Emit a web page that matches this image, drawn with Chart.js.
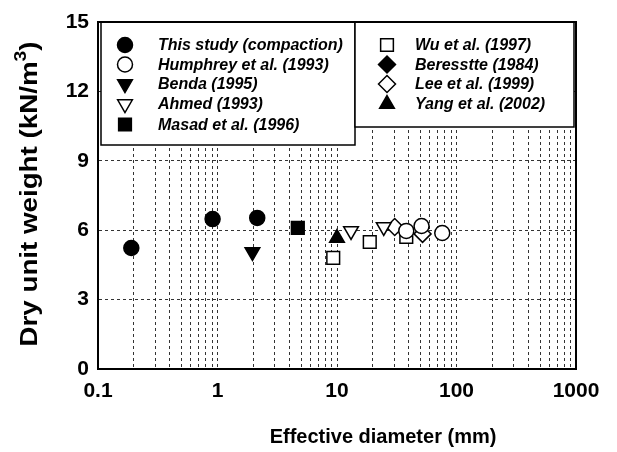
<!DOCTYPE html>
<html>
<head>
<meta charset="utf-8">
<script src="https://cdn.jsdelivr.net/npm/chart.js@4/dist/chart.umd.min.js"></script>
<style>
  body { margin: 0; background: #fff; }
  #chart { display: block; }
</style>
</head>
<body>
<canvas id="chart" width="617" height="452"></canvas>
<script>
// values
const thisStudyX = [0.19, 0.91, 2.15];
const thisStudyY = [5.23, 6.48, 6.53];
const humphreyX = [38, 51, 76];
const humphreyY = [5.97, 6.18, 5.88];
const bendaX = [1.96];
const bendaY = [5.06];
const ahmedX = [13.1, 24.6];
const ahmedY = [5.97, 6.14];
const masadX = [4.7];
const masadY = [6.1];
const wuX = [9.3, 18.8, 38];
const wuY = [4.8, 5.49, 5.71];
const beresstteX = [];
const beresstteY = [];
const leeX = [30.4, 52];
const leeY = [6.14, 5.84];
const yangX = [10.0];
const yangY = [5.66];

const xTickLabels = [0.1, 1, 10, 100, 1000];
const yTickLabels = [0, 3, 6, 9, 12, 15];

function pts(xs, ys) {
    return xs.map((x, i) => ({ x: x, y: ys[i] }));
}

// name, data, pointStyle, rotation, filled, radius, legend column
const series = [
    ['This study (compaction)', pts(thisStudyX, thisStudyY), 'circle', 0, true, 7.5, 0],
    ['Humphrey et al. (1993)', pts(humphreyX, humphreyY), 'circle', 0, false, 7.5, 0],
    ['Benda (1995)', pts(bendaX, bendaY), 'triangle', 180, true, 8.5, 0],
    ['Ahmed (1993)', pts(ahmedX, ahmedY), 'triangle', 180, false, 8.5, 0],
    ['Masad et al. (1996)', pts(masadX, masadY), 'rect', 0, true, 9, 0],
    ['Wu et al. (1997)', pts(wuX, wuY), 'rect', 0, false, 9, 1],
    ['Beresstte (1984)', pts(beresstteX, beresstteY), 'rectRot', 0, true, 8.5, 1],
    ['Lee et al. (1999)', pts(leeX, leeY), 'rectRot', 0, false, 8.5, 1],
    ['Yang et al. (2002)', pts(yangX, yangY), 'triangle', 0, true, 8.5, 1],
];

const datasets = series.map(s => ({
    label: s[0],
    data: s[1],
    pointStyle: s[2],
    rotation: s[3],
    pointRadius: s[5],
    pointHoverRadius: s[5],
    pointBackgroundColor: s[4] ? '#000' : '#fff',
    pointBorderColor: '#000',
    pointBorderWidth: 1.5,
    showLine: false,
    legendCol: s[6],
    filled: s[4],
}));

// minor + major positions for the log grid
const xGridValues = [];
xTickLabels.forEach((v, i) => {
    if (i === xTickLabels.length - 1) { xGridValues.push(v); return; }
    for (let k = 1; k <= 9; k++) xGridValues.push(+(v * k).toPrecision(3));
});

// frame, legend boxes and axis titles
const extras = {
    id: 'extras',
    afterDraw(chart) {
        const ctx = chart.ctx;
        const a = chart.chartArea;
        ctx.save();

        // legend boxes
        const boxes = [
            { x: 101, y: a.top, w: 254, h: 123, mx: 125, tx: 158 },
            { x: 355, y: a.top, w: 219, h: 105, mx: 387, tx: 415 },
        ];
        const rowY = [45, 64.5, 84, 104, 124.5];
        boxes.forEach((b, col) => {
            ctx.fillStyle = '#fff';
            ctx.fillRect(b.x, b.y, b.w, b.h);
            ctx.strokeStyle = '#000';
            ctx.lineWidth = 1.5;
            ctx.strokeRect(b.x, b.y, b.w, b.h);
            let row = 0;
            datasets.forEach(ds => {
                if (ds.legendCol !== col) return;
                const y = rowY[row++];
                ctx.fillStyle = ds.filled ? '#000' : '#fff';
                ctx.strokeStyle = '#000';
                ctx.lineWidth = 1.5;
                Chart.helpers.drawPoint(ctx, {
                    pointStyle: ds.pointStyle,
                    rotation: ds.rotation,
                    radius: ds.pointRadius,
                    borderWidth: 1.5,
                }, b.mx, y);
                ctx.fillStyle = '#000';
                ctx.font = 'italic bold 16px "Liberation Sans", Arial, sans-serif';
                ctx.textAlign = 'left';
                ctx.textBaseline = 'middle';
                ctx.fillText(ds.label, b.tx, y + 1);
            });
        });

        // plot frame
        ctx.strokeStyle = '#000';
        ctx.lineWidth = 2;
        ctx.strokeRect(a.left, a.top, a.right - a.left, a.bottom - a.top);

        // x title
        ctx.fillStyle = '#000';
        ctx.font = 'bold 20px "Liberation Sans", Arial, sans-serif';
        ctx.textAlign = 'center';
        ctx.textBaseline = 'middle';
        ctx.fillText('Effective diameter (mm)', 383, 437);

        // y title with superscript, stretched to the length it has in the figure
        ctx.translate(31, 194);
        ctx.rotate(-Math.PI / 2);
        const main = 'Dry unit weight (kN/m';
        const big = 'bold 23px "Liberation Sans", Arial, sans-serif';
        const small = 'bold 16px "Liberation Sans", Arial, sans-serif';
        ctx.font = big;
        const w1 = ctx.measureText(main).width;
        const w3 = ctx.measureText(')').width;
        ctx.font = small;
        const w2 = ctx.measureText('3').width;
        const total = w1 + w2 + w3;
        ctx.scale(305 / total, 1);
        let x0 = -total / 2;
        ctx.textAlign = 'left';
        ctx.font = big;
        ctx.fillText(main, x0, 0);
        ctx.font = small;
        ctx.fillText('3', x0 + w1, -9);
        ctx.font = big;
        ctx.fillText(')', x0 + w1 + w2, 0);
        ctx.restore();
    }
};

const tickFont = { family: '"Liberation Sans", Arial, sans-serif', size: 21, weight: 'bold' };
const gridStyle = {
    color: 'rgba(0,0,0,0.8)',
    lineWidth: 1,
    drawTicks: false,
};

new Chart(document.getElementById('chart').getContext('2d'), {
    type: 'scatter',
    data: { datasets: datasets },
    options: {
        responsive: false,
        animation: false,
        events: [],
        layout: { padding: { top: 22, right: 41, left: 0, bottom: 0 } },
        plugins: { legend: { display: false }, tooltip: { enabled: false } },
        scales: {
            x: {
                type: 'logarithmic',
                min: 0.1,
                max: 1000,
                afterBuildTicks: scale => {
                    scale.ticks = xGridValues.map(v => ({ value: v }));
                },
                afterFit: scale => { scale.height = 83; },
                ticks: {
                    autoSkip: false,
                    maxRotation: 0,
                    padding: 10,
                    color: '#000',
                    font: tickFont,
                    callback: v => xTickLabels.includes(v) ? String(v) : '',
                },
                grid: gridStyle,
                border: { display: true, color: '#000', width: 2, dash: [3, 3] },
            },
            y: {
                min: 0,
                max: 15,
                afterBuildTicks: scale => {
                    scale.ticks = yTickLabels.map(v => ({ value: v }));
                },
                afterFit: scale => { scale.width = 98; },
                ticks: {
                    padding: 9,
                    color: '#000',
                    font: tickFont,
                },
                grid: gridStyle,
                border: { display: true, color: '#000', width: 2, dash: [3, 3] },
            },
        },
    },
    plugins: [extras],
});
</script>
</body>
</html>
